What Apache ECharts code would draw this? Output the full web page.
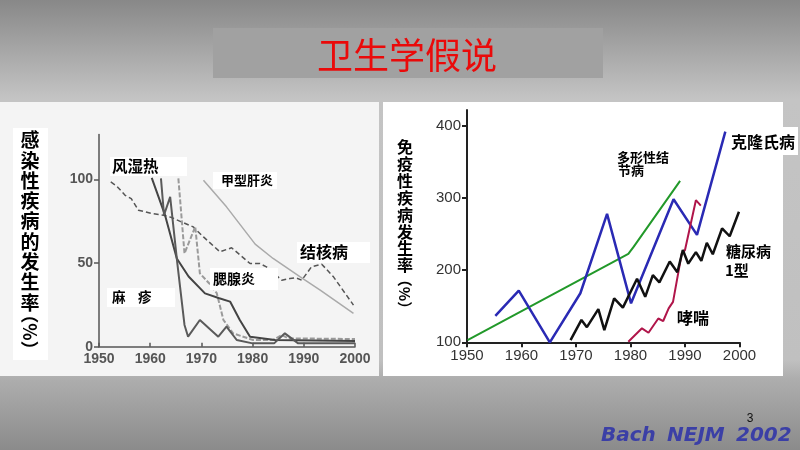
<!DOCTYPE html>
<html><head><meta charset="utf-8">
<script src="https://cdn.jsdelivr.net/npm/echarts@6/dist/echarts.min.js"></script>
<style>html,body{margin:0;padding:0;background:#aaa;}#c{width:800px;height:450px;}</style>
</head><body><div id="c"></div>
<script>
// ---------- data ----------
const xTicks = [1950, 1960, 1970, 1980, 1990, 2000];
const leftYTicks = [0, 50, 100];
const rightYTicks = [100, 200, 300, 400];

// Left chart: infectious diseases (%)
const tuberculosis = [[1952.3,98.6],[1953.5,96],[1955.1,90.6],[1956.3,88.6],[1957.7,81.7],[1960.3,79.7],[1962.6,78.7],[1964.2,77.3],[1966.1,74.7],[1968.4,71.7],[1970.4,65.7],[1973.6,56.8],[1975.9,59.2],[1979.5,49.8],[1981.4,49.8],[1982.7,47.8],[1984.5,43],[1985.7,39.8],[1987.3,40.8],[1988.5,41.2],[1989.6,39.8],[1991.5,47.8],[1993.5,49.4],[1995.8,41.8],[1999.7,24.9]];
const hepatitisA = [[1970.4,99.6],[1974.9,83.7],[1980.5,61.4],[1984,52.8],[1989.3,41.8],[1993.2,33.9],[1999.7,19.9]];
const rheumaticFever = [[1960.3,101],[1962.9,78.7],[1965.2,52.8],[1967.5,42],[1970.7,31.9],[1973.5,29],[1975.6,27],[1977.5,16],[1979.5,6],[1984.4,4],[2000,3.4]];
const measles = [[1962.1,100.7],[1962.7,78.8],[1963.9,89.7],[1965.3,49.9],[1966.7,13],[1967.4,6],[1969.7,16],[1973.3,6],[1974.9,12],[1976.9,4],[1980,2],[1984.2,2],[1986.3,8],[1988.9,2],[2000,2]];
const mumps = [[1965.5,100.7],[1966.7,55.8],[1968.8,71.8],[1969.7,43.9],[1971.5,38],[1973,32],[1974.3,16],[1976.2,8],[1980.1,4],[1984,4],[1985.7,7],[1987,5],[2000,4.6]];

// Right chart: immune disorders (%)
const crohns = [[1955.2,136.5],[1959.5,171.7],[1965.2,100],[1970.8,168],[1975.7,278],[1980.1,154],[1987.9,298.3],[1992.2,248.9],[1997.4,392]];
const sarcoidosis = [[1950.1,103],[1979.6,222.5],[1980.6,232.7],[1989.1,323.8]];
const diabetes1 = [[1969,103],[1971,131],[1972,121],[1974.1,146],[1975.2,117],[1977,161],[1978.6,148],[1981.2,188],[1982.7,163],[1984.1,193],[1985.3,183],[1987.2,212],[1988.6,197],[1989.6,228],[1990.6,209],[1992,225],[1993,213],[1994,238],[1995.1,222],[1996.8,258],[1998.2,247],[1999.9,281]];
const asthma = [[1979.6,100.8],[1982.1,119.4],[1983.3,113.3],[1985.1,133],[1986,129.5],[1987,147],[1987.8,156],[1989.4,223],[1990,228],[1992,297],[1992.9,289.5]];

// ---------- chart ----------
const chart = echarts.init(document.getElementById('c'), null, {renderer: 'canvas'});
const cjk = '"Noto Sans CJK SC", sans-serif';
const latin = '"Liberation Sans", Arial, sans-serif';
const plain = v => String(v);

function line(data, xi, color, width, type, z) {
  return {type: 'line', xAxisIndex: xi, yAxisIndex: xi, data: data, showSymbol: false, symbol: 'none',
    silent: true, animation: false, z: z || 2,
    lineStyle: {color: color, width: width, type: type || 'solid'}};
}

function vtext(chars, x, y0, pitch, size) {
  return chars.split('').map((ch, i) => ({type: 'text', z: 50,
    style: {text: ch, x: x, y: y0 + i * pitch, font: 'bold ' + size + 'px ' + cjk, fill: '#000',
      textAlign: 'center', textVerticalAlign: 'middle'}}));
}
function box(x, y, w, h, fill) {
  return {type: 'rect', z: 40, shape: {x: x, y: y, width: w, height: h}, style: {fill: fill || '#fff'}};
}
function lbl(text, x, y, size, color) {
  return {type: 'text', z: 50, style: {text: text, x: x, y: y, font: 'bold ' + size + 'px ' + cjk,
    fill: color || '#000', textAlign: 'left', textVerticalAlign: 'middle'}};
}

const graphics = [
  // panels
  {type: 'rect', z: -10, shape: {x: 0, y: 102, width: 379, height: 274}, style: {fill: '#f4f4f4'}},
  {type: 'rect', z: -10, shape: {x: 383, y: 102, width: 400, height: 274}, style: {fill: '#ffffff'}},
  // title box
  {type: 'rect', z: 1, shape: {x: 213, y: 28, width: 390, height: 50}, style: {fill: '#a1a1a1'}},
  {type: 'text', z: 50, style: {text: '卫生学假说', x: 407, y: 55, font: '36px ' + cjk, fill: '#ea0a0a',
    textAlign: 'center', textVerticalAlign: 'middle'}},
  // left y title
  box(13, 128, 35, 232),
  ...vtext('感染性疾病的发生率', 30, 140, 20.3, 19),
  {type: 'text', z: 50, x: 30, y: 332, rotation: -Math.PI / 2,
    style: {text: '（%）', x: 0, y: 0, font: 'bold 18px ' + cjk, fill: '#000', textAlign: 'center', textVerticalAlign: 'middle'}},
  // right y title
  ...vtext('免疫性疾病发生率', 405, 147, 16.9, 16),
  {type: 'text', z: 50, x: 405, y: 294, rotation: -Math.PI / 2,
    style: {text: '（%）', x: 0, y: 0, font: 'bold 15px ' + cjk, fill: '#000', textAlign: 'center', textVerticalAlign: 'middle'}},
  // left labels
  box(110, 157, 77, 19), lbl('风湿热', 112, 166, 15.5),
  box(213, 172, 64, 17), lbl('甲型肝炎', 221, 180, 13),
  box(297, 242, 73, 21), lbl('结核病', 300, 252, 16),
  box(210, 268, 68, 22), lbl('腮腺炎', 213, 279, 14),
  box(107, 288, 68, 19), lbl('麻', 112, 297, 13.5), lbl('疹', 138, 297, 13.5),
  // right labels
  box(728, 127, 70, 28), lbl('克隆氏病', 731, 142, 16),
  lbl('多形性结', 617, 157, 13), lbl('节病', 618, 170, 13),
  lbl('糖尿病', 726, 251, 15), lbl('1型', 725, 270, 15),
  lbl('哮喘', 677, 318, 16),
  // footer
  {type: 'text', z: 50, style: {text: '3', x: 750, y: 419, font: '12px ' + latin, fill: '#111', textAlign: 'center', textVerticalAlign: 'middle'}},
  {type: 'text', z: 50, style: {text: 'Bach', x: 601, y: 436, font: 'italic bold 20px "DejaVu Sans"', fill: '#3b3fa6', textAlign: 'left', textVerticalAlign: 'middle'}},
  {type: 'text', z: 50, style: {text: 'NEJM', x: 667, y: 436, font: 'italic bold 20px "DejaVu Sans"', fill: '#3b3fa6', textAlign: 'left', textVerticalAlign: 'middle'}},
  {type: 'text', z: 50, style: {text: '2002', x: 736, y: 436, font: 'italic bold 20px "DejaVu Sans"', fill: '#3b3fa6', textAlign: 'left', textVerticalAlign: 'middle'}}
];

const option = {
  animation: false,
  backgroundColor: {type: 'linear', x: 0, y: 0, x2: 0, y2: 1, colorStops: [
    {offset: 0, color: '#888888'}, {offset: 0.22, color: '#c4c4c4'},
    {offset: 0.8, color: '#c0c0c0'}, {offset: 0.84, color: '#aeaeae'}, {offset: 1, color: '#8b8b8b'}]},
  grid: [
    {left: 99, top: 134.5, width: 256, height: 212.2},
    {left: 467, top: 110, width: 272.5, height: 232.3}
  ],
  xAxis: [
    {type: 'value', gridIndex: 0, min: 1950, max: 2000, interval: 10, splitLine: {show: false},
      axisLine: {lineStyle: {color: '#555', width: 1.5}},
      axisTick: {inside: true, length: 4, customValues: xTicks, lineStyle: {color: '#555', width: 1.5}},
      axisLabel: {customValues: xTicks, formatter: plain, color: '#555', fontSize: 14, fontWeight: 'bold', fontFamily: latin, margin: 5}},
    {type: 'value', gridIndex: 1, min: 1950, max: 2000, interval: 10, splitLine: {show: false},
      axisLine: {lineStyle: {color: '#222', width: 2}},
      axisTick: {length: 5, customValues: xTicks, lineStyle: {color: '#222', width: 2}},
      axisLabel: {customValues: xTicks, formatter: plain, color: '#333', fontSize: 15, fontFamily: latin, margin: 6}}
  ],
  yAxis: [
    {type: 'value', gridIndex: 0, min: 0, max: 127, splitLine: {show: false},
      axisLine: {show: true, lineStyle: {color: '#555', width: 1.5}},
      axisTick: {show: true, length: 5, customValues: leftYTicks, lineStyle: {color: '#555', width: 1.5}},
      axisLabel: {customValues: leftYTicks, formatter: plain, color: '#555', fontSize: 14, fontWeight: 'bold', fontFamily: latin, margin: 6}},
    {type: 'value', gridIndex: 1, min: 100, max: 422, splitLine: {show: false},
      axisLine: {show: true, lineStyle: {color: '#222', width: 2}},
      axisTick: {show: true, length: 5, customValues: rightYTicks, lineStyle: {color: '#222', width: 2}},
      axisLabel: {customValues: rightYTicks, formatter: plain, color: '#333', fontSize: 15, fontFamily: latin, margin: 6}}
  ],
  series: [
    line(hepatitisA, 0, '#aaaaaa', 1.5),
    line(tuberculosis, 0, '#555555', 1.5, [5, 3]),
    line(mumps, 0, '#9a9a9a', 2, [5, 2]),
    line(rheumaticFever, 0, '#444444', 2),
    line(measles, 0, '#5a5a5a', 2),
    line(sarcoidosis, 1, '#22992a', 2),
    line(crohns, 1, '#2a2ab4', 2.5),
    line(asthma, 1, '#b0154a', 2),
    line(diabetes1, 1, '#111111', 2.5)
  ],
  graphic: {elements: graphics}
};
chart.setOption(option);
</script>
</body></html>
